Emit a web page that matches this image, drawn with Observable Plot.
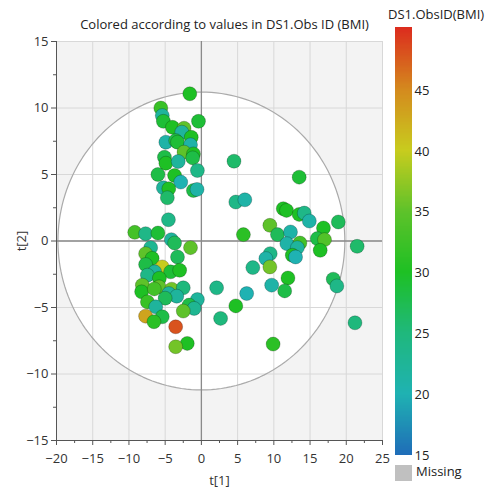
<!DOCTYPE html>
<html><head><meta charset="utf-8">
<script src="https://cdn.jsdelivr.net/npm/d3@7"></script>
<script src="https://cdn.jsdelivr.net/npm/@observablehq/plot@0.6"></script>
<style>
body{margin:0;background:#fff;font-family:"Open Sans",sans-serif;}
#wrap{position:relative;width:490px;height:488px;overflow:hidden;}
#wrap svg{position:absolute;left:0;top:0;}
#legTitle{position:absolute;left:388px;top:5px;font-size:13px;color:#222;white-space:nowrap;}
#missing{position:absolute;left:395px;top:462px;font-size:13px;color:#222;white-space:nowrap;}
#missing span.sw{display:inline-block;width:17px;height:16px;background:#c0c0c0;vertical-align:middle;margin-right:4px;}
</style></head>
<body><div id="wrap"></div>
<script>
const title = "Colored according to values in DS1.Obs ID (BMI)";
const legendTitle = "DS1.ObsID(BMI)";
const xLabel = "t[1]";
const yLabel = "t[2]";
const xTicks = [-20,-15,-10,-5,0,5,10,15,20,25];
const yTicks = [-15,-10,-5,0,5,10,15];
const legendTicks = [15,20,25,30,35,40,45];
const colorStops = [15,20,25,30,35,40,45,50.2];
const colorRange = ["#1f6db8","#1fb2b2","#1fb87c","#1ec024","#5ec22a","#c8cc1e","#d48a1e","#dc2a1e"];
const ellipseRadii = [19.8, 11.2];

const t1 = [
 -1.6,-5.6,-5.4,-5.25,-0.4,-4.0,-2.4,-2.7,-1.4,-4.9,-3.55,-3.3,-1.5,-2.4,-1.1,-1.2,-5.1,-4.9,-3.2,-0.55,-6.0,-3.7,-2.85,-5.25,-4.5,-1.1,-0.6,-4.7,
 -4.55,-9.2,-7.7,-6.0,-4.15,-3.7,-1.5,-7.0,-7.7,-3.3,-6.8,-7.7,-5.4,-6.45,-4.25,-7.45,-5.8,-3.0,-8.15,-8.25,-5.85,-4.1,-2.5,-4.5,-3.4,-0.55,-6.5,-5.0,-1.7,-1.0,-2.5,-7.45,-6.3,-7.7,-5.4,-6.55,-3.55,-1.95,-3.55,
 4.5,13.5,4.75,6.0,11.3,11.75,13.5,14.2,14.9,18.9,9.45,10.5,12.3,5.8,11.8,13.6,13.25,16.85,16.0,17.0,16.4,21.5,9.5,8.9,12.55,13.0,7.1,9.45,11.95,11.5,9.7,6.25,2.1,4.75,2.65,18.2,18.7,21.2,9.9
];
const t2 = [
 11.07,10.0,9.43,9.0,9.0,8.55,8.48,8.18,7.8,7.43,7.55,7.43,7.23,6.68,6.55,6.25,6.3,5.85,5.98,5.3,5.0,4.93,4.43,4.0,3.93,3.8,3.88,3.25,
 1.6,0.65,0.55,0.6,0.1,-0.15,-0.5,-0.5,-0.95,-1.2,-1.3,-1.77,-1.95,-2.32,-2.32,-2.57,-2.8,-2.2,-3.32,-3.82,-3.45,-3.62,-3.52,-3.95,-4.15,-4.4,-3.6,-4.3,-4.82,-5.07,-5.27,-4.58,-4.95,-5.65,-5.7,-6.07,-6.45,-7.7,-7.95,
 6.0,4.8,2.93,3.1,2.43,2.3,2.0,2.1,1.5,1.43,1.18,0.48,0.68,0.48,-0.2,-0.15,-0.5,0.98,0.18,0.1,-0.7,-0.4,-0.95,-1.32,-1.07,-1.2,-2.0,-1.95,-2.78,-3.75,-3.32,-3.95,-3.52,-4.88,-5.82,-2.87,-3.38,-6.15,-7.75
];
const bmi = [
 30,32,22,29,29,30,35,22,30,21,28,29,21,35,30,28,28,30,22,24,28,30,20,22,30,28,21,26,
 24,33,24,29,22,27,35,23,35,27,30,28,40,22,29,24,30,30,35,30,35,36,25,22,22,22,33,27,28,23,35,32,22,43,28,31,48,30,36,
 26,29,24,21,30,30,30,24,21,27,35,27,21,31,21,33,22,30,28,34,30,26,24,21,30,20,24,36,30,28,21,20,24,30,25,27,24,25,31
];

const points = t1.map((x, i) => ({t1: x, t2: t2[i], bmi: bmi[i]}));
const angles = d3.range(0, 361, 2);
const ellipse = angles.map(a => ({x: ellipseRadii[0]*Math.cos(a*Math.PI/180), y: ellipseRadii[1]*Math.sin(a*Math.PI/180)}));
const minorX = d3.range(-17.5, 25, 5);
const minorY = d3.range(-12.5, 15, 5);

const colorScale = {type: "linear", domain: colorStops, range: colorRange, interpolate: "rgb"};
const font = "'Open Sans', sans-serif";

const main = Plot.plot({
  width: 490, height: 488,
  marginLeft: 56, marginRight: 108, marginTop: 41, marginBottom: 48,
  style: {fontFamily: font, fontSize: "13px", color: "#333", background: "transparent"},
  x: {domain: [-20, 25]},
  y: {domain: [-15, 15]},
  color: colorScale,
  marks: [
    Plot.frame({fill: "#f3f3f3", stroke: null}),
    Plot.line(ellipse, {x: "x", y: "y", fill: "white", stroke: "none"}),
    Plot.gridX(xTicks, {stroke: "#d8d8d8", strokeOpacity: 1}),
    Plot.gridY(yTicks, {stroke: "#d8d8d8", strokeOpacity: 1}),
    Plot.line(ellipse, {x: "x", y: "y", stroke: "#aaaaaa", strokeWidth: 1.2}),
    Plot.ruleX([0], {stroke: "#8a8a8a", strokeWidth: 1.3}),
    Plot.ruleY([0], {stroke: "#8a8a8a", strokeWidth: 1.3}),
    Plot.ruleX([-20], {stroke: "#555"}),
    Plot.ruleY([-15], {stroke: "#555"}),
    Plot.axisX(xTicks, {tickSize: 5, tickPadding: 8, stroke: "#555", fill: "#333", label: xLabel, labelAnchor: "center", labelArrow: "none", labelOffset: 44}),
    Plot.axisX(minorX, {tickSize: 3, stroke: "#555", text: null, label: null}),
    Plot.axisY(yTicks, {tickSize: 5, tickPadding: 3, stroke: "#555", fill: "#333", label: yLabel, labelAnchor: "center", labelArrow: "none", labelOffset: 40}),
    Plot.axisY(minorY, {tickSize: 3, stroke: "#555", text: null, label: null}),
    Plot.dot(points, {x: "t1", y: "t2", fill: "bmi", r: 7, stroke: "#000", strokeOpacity: 0.22, strokeWidth: 1}),
    Plot.text([title], {frameAnchor: "top", dy: -22, dx: 5, fontSize: 13, fill: "#222"})
  ]
});

const strips = d3.range(15, 50.2, 0.1);
const legend = Plot.plot({
  width: 110, height: 488,
  marginLeft: 15, marginRight: 78, marginTop: 27, marginBottom: 33,
  style: {fontFamily: font, fontSize: "13px", color: "#222", background: "transparent"},
  x: {domain: [0, 1], axis: null},
  y: {domain: [15, 50.2]},
  color: colorScale,
  marks: [
    Plot.rect(strips, {x1: 0, x2: 1, y1: d => d, y2: d => Math.min(d + 0.2, 50.2), fill: d => d, shapeRendering: "crispEdges"}),
    Plot.axisY(legendTicks, {anchor: "right", tickSize: 0, tickPadding: 2, label: null, fill: "#222"})
  ]
});

const wrap = document.getElementById("wrap");
wrap.appendChild(main);
legend.style.left = "380px";
wrap.appendChild(legend);
const lt = document.createElement("div"); lt.id = "legTitle"; lt.textContent = legendTitle; wrap.appendChild(lt);
const ms = document.createElement("div"); ms.id = "missing";
ms.innerHTML = '<span class="sw"></span>';
ms.appendChild(document.createTextNode("Missing"));
wrap.appendChild(ms);
</script></body></html>
